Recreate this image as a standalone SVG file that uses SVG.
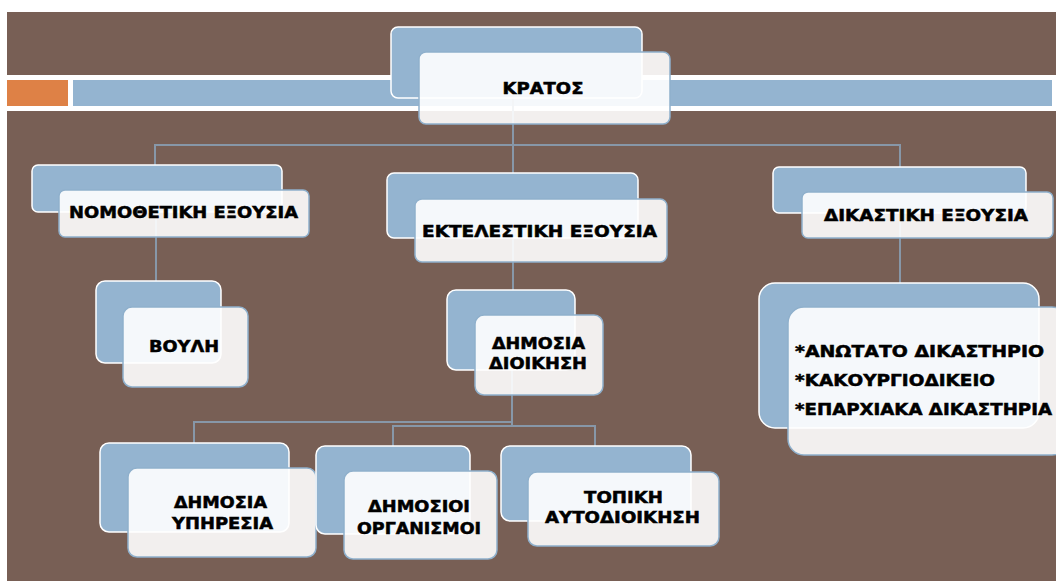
<svg xmlns="http://www.w3.org/2000/svg" width="1056" height="581" viewBox="0 0 1056 581">
<style>
.back{fill:#94b4d0;stroke:#ffffff;stroke-width:1.5}
.front{fill:#ffffff;fill-opacity:0.9;stroke:#8fb0cc;stroke-width:1.5}
.t{font-family:"DejaVu Sans",sans-serif;font-weight:bold;font-size:15.5px;fill:#000000;stroke:#000000;stroke-width:0.5}
.c{text-anchor:middle}
.ln{fill:none;stroke:#8797a8;stroke-width:2}
</style>
<rect x="0" y="0" width="1056" height="581" fill="#ffffff"/>
<rect x="7" y="12" width="1049" height="569" fill="#785f55"/>
<rect x="7" y="75" width="1049" height="36" fill="#ffffff"/>
<rect x="7" y="80" width="61" height="26" fill="#de8146"/>
<rect x="73" y="80" width="979" height="26" fill="#94b4d0"/>
<g id="connectors">
<path class="ln" d="M513,98 V145 M155,167 V145 H900 V167 M513,145 V173"/>
<path class="ln" d="M156,212 V281"/>
<path class="ln" d="M513,238 V290"/>
<path class="ln" d="M900,213 V283"/>
<path class="ln" d="M512,370 V422 H194 V443"/>
<path class="ln" d="M393,446 V426 H595 V446 M512,422 V426"/>
</g>
<g id="kratos">
<rect class="back" x="391" y="27" width="251" height="71" rx="7"/>
<rect class="front" x="419" y="52" width="251" height="72" rx="7"/>
<text class="t c" x="543" y="94" textLength="81" lengthAdjust="spacingAndGlyphs">ΚΡΑΤΟΣ</text>
</g>
<g id="nomothetiki">
<rect class="back" x="32" y="165" width="250" height="47" rx="6"/>
<rect class="front" x="59" y="190" width="250" height="47" rx="6"/>
<text class="t c" x="183.5" y="218" textLength="229" lengthAdjust="spacingAndGlyphs">ΝΟΜΟΘΕΤΙΚΗ ΕΞΟΥΣΙΑ</text>
</g>
<g id="ektelestiki">
<rect class="back" x="387" y="173" width="251" height="65" rx="7"/>
<rect class="front" x="415" y="199" width="252" height="63" rx="7"/>
<text class="t c" x="539.5" y="237" textLength="235" lengthAdjust="spacingAndGlyphs">ΕΚΤΕΛΕΣΤΙΚΗ ΕΞΟΥΣΙΑ</text>
</g>
<g id="dikastiki">
<rect class="back" x="773" y="167" width="253" height="46" rx="6"/>
<rect class="front" x="802" y="192" width="251" height="46" rx="6"/>
<text class="t c" x="926" y="221" textLength="204" lengthAdjust="spacingAndGlyphs">ΔΙΚΑΣΤΙΚΗ ΕΞΟΥΣΙΑ</text>
</g>
<g id="vouli">
<rect class="back" x="96" y="281" width="125" height="82" rx="9"/>
<rect class="front" x="123" y="307" width="125" height="80" rx="9"/>
<text class="t c" x="184" y="352" textLength="70" lengthAdjust="spacingAndGlyphs">ΒΟΥΛΗ</text>
</g>
<g id="dimosia-dioikisi">
<rect class="back" x="447" y="290" width="128" height="80" rx="9"/>
<rect class="front" x="475" y="315" width="128" height="80" rx="9"/>
<text class="t c" x="538.5" y="349" textLength="93" lengthAdjust="spacingAndGlyphs">ΔΗΜΟΣΙΑ</text>
<text class="t c" x="538" y="369" textLength="98" lengthAdjust="spacingAndGlyphs">ΔΙΟΙΚΗΣΗ</text>
</g>
<g id="dikastiria">
<rect class="back" x="759" y="283" width="280" height="145" rx="16"/>
<rect class="front" x="788" y="307" width="280" height="148" rx="16"/>
<text class="t" x="795" y="357" textLength="249" lengthAdjust="spacingAndGlyphs">*ΑΝΩΤΑΤΟ ΔΙΚΑΣΤΗΡΙΟ</text>
<text class="t" x="795" y="386" textLength="200" lengthAdjust="spacingAndGlyphs">*ΚΑΚΟΥΡΓΙΟΔΙΚΕΙΟ</text>
<text class="t" x="795" y="415" textLength="257" lengthAdjust="spacingAndGlyphs">*ΕΠΑΡΧΙΑΚΑ ΔΙΚΑΣΤΗΡΙΑ</text>
</g>
<g id="dimosia-ypiresia">
<rect class="back" x="100" y="443" width="189" height="89" rx="9"/>
<rect class="front" x="128" y="468" width="188" height="89" rx="9"/>
<text class="t c" x="220.5" y="508" textLength="93" lengthAdjust="spacingAndGlyphs">ΔΗΜΟΣΙΑ</text>
<text class="t c" x="222.5" y="529" textLength="101" lengthAdjust="spacingAndGlyphs">ΥΠΗΡΕΣΙΑ</text>
</g>
<g id="dimosioi-organismoi">
<rect class="back" x="316" y="446" width="154" height="88" rx="9"/>
<rect class="front" x="344" y="471" width="153" height="88" rx="9"/>
<text class="t c" x="419" y="512" textLength="102" lengthAdjust="spacingAndGlyphs">ΔΗΜΟΣΙΟΙ</text>
<text class="t c" x="419" y="534" textLength="124" lengthAdjust="spacingAndGlyphs">ΟΡΓΑΝΙΣΜΟΙ</text>
</g>
<g id="topiki">
<rect class="back" x="501" y="446" width="190" height="75" rx="9"/>
<rect class="front" x="528" y="472" width="191" height="74" rx="9"/>
<text class="t c" x="623.5" y="503" textLength="79" lengthAdjust="spacingAndGlyphs">ΤΟΠΙΚΗ</text>
<text class="t c" x="622.5" y="523" textLength="155" lengthAdjust="spacingAndGlyphs">ΑΥΤΟΔΙΟΙΚΗΣΗ</text>
</g>
</svg>
